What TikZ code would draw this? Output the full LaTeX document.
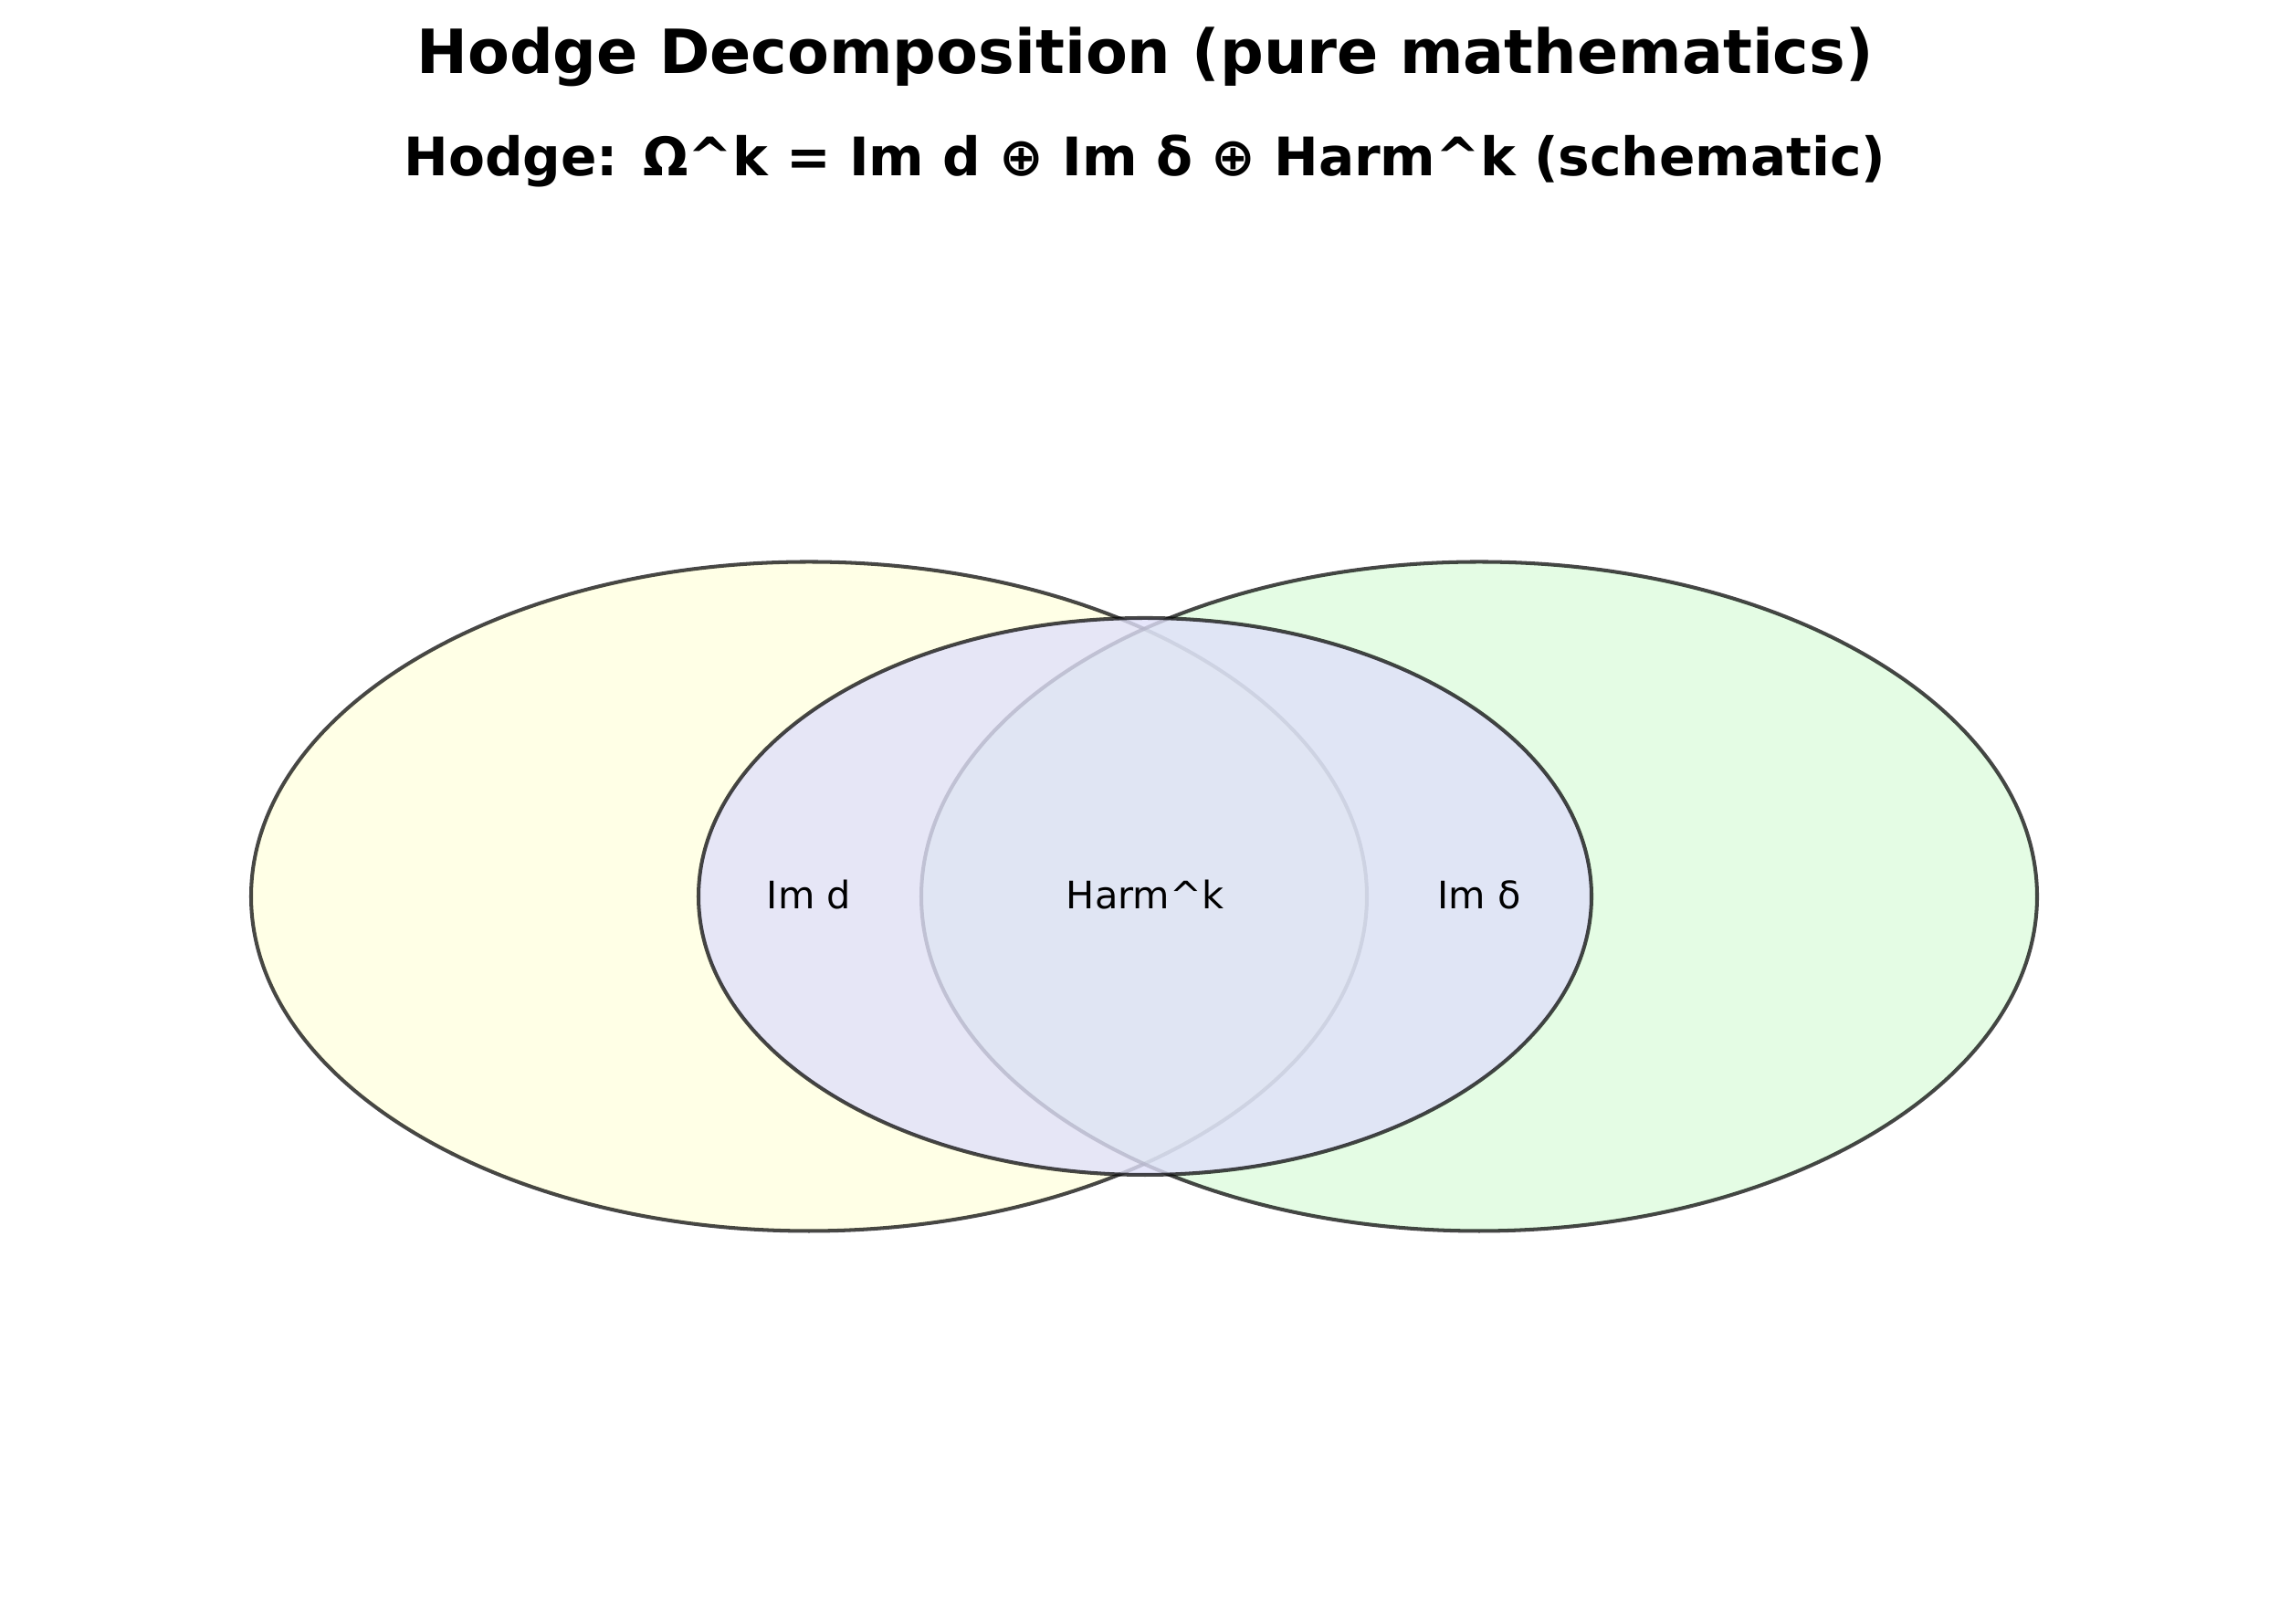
\documentclass[tikz,border=0pt]{standalone}
\usepackage{fontspec}
\setmainfont{DejaVu Sans}
\usetikzlibrary{shapes.geometric}
\definecolor{dyellow}{RGB}{255,255,230}
\definecolor{dgreen}{RGB}{201,249,201}
\definecolor{dlavender}{RGB}{224,224,250}
\begin{document}
\begin{tikzpicture}[bignode/.style={ellipse, draw=black, draw opacity=0.72, line width=1.15pt, inner sep=0pt, minimum width=12.22cm, minimum height=7.33cm},
  midnode/.style={ellipse, draw=black, draw opacity=0.72, line width=1.15pt, inner sep=0pt, minimum width=9.78cm, minimum height=6.1cm},
  labelnode/.style={anchor=base, font=\fontsize{11.8}{14}\selectfont}]
  \useasboundingbox (0,0) rectangle (25.08,17.79);
  % Titles
  \node[anchor=base, font=\fontsize{19}{23}\selectfont\bfseries] at (12.54,16.98) (title) {Hodge Decomposition (pure mathematics)};
  \node[anchor=base, font=\fontsize{16.55}{20}\selectfont\bfseries] at (12.54,15.86) (subtitle) {Hodge: Ω\textasciicircum k = Im d ⊕ Im δ ⊕ Harm\textasciicircum k (schematic)};
  % Ellipses
  \node[bignode, fill=dyellow] at (8.86,7.97) (imd) {};
  \node[bignode, fill=dgreen, fill opacity=0.5] at (16.20,7.97) (imdelta) {};
  \node[midnode, fill=dlavender, fill opacity=0.8] at (12.54,7.97) (harm) {};
  % Labels
  \node[labelnode] at (8.86,7.83) (imdlabel) {Im d};
  \node[labelnode] at (12.54,7.83) (harmlabel) {Harm\textasciicircum k};
  \node[labelnode] at (16.20,7.83) (imdeltalabel) {Im δ};
\end{tikzpicture}
\end{document}
